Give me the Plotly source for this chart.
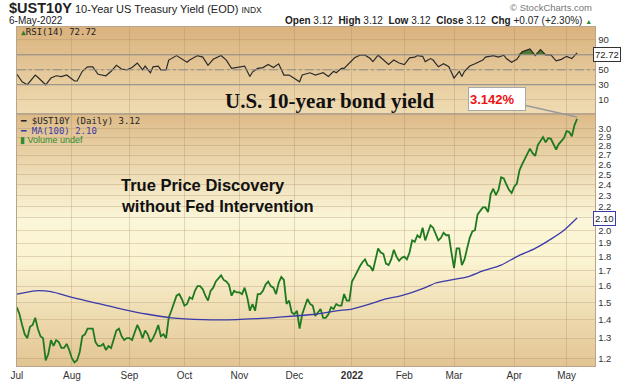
import numpy as np
import pandas as pd
import plotly.graph_objects as go

# ---------------- data ----------------
holidays = ["2021-07-05", "2021-09-06", "2021-11-25", "2021-12-24",
            "2022-01-17", "2022-02-21", "2022-04-15"]
trading_days = pd.bdate_range("2021-07-01", "2022-05-06", freq="C", holidays=holidays)
dates = [d.strftime("%Y-%m-%d") for d in trading_days]

yield_jul = [1.47, 1.43, 1.37, 1.32, 1.30, 1.36, 1.37, 1.41, 1.35, 1.31, 1.30, 1.19, 1.22, 1.29,
             1.26, 1.29, 1.28, 1.25, 1.25, 1.27, 1.24]
yield_aug = [1.20, 1.18, 1.19, 1.23, 1.31, 1.32, 1.35, 1.35, 1.35, 1.28, 1.26, 1.26, 1.27, 1.24,
             1.26, 1.25, 1.29, 1.34, 1.35, 1.31, 1.29, 1.30]
yield_sep = [1.30, 1.29, 1.33, 1.37, 1.34, 1.30, 1.34, 1.32, 1.28, 1.30, 1.33, 1.37, 1.31, 1.32,
             1.30, 1.41, 1.45, 1.49, 1.54, 1.55, 1.52]
yield_oct = [1.48, 1.49, 1.53, 1.52, 1.57, 1.60, 1.60, 1.58, 1.54, 1.51, 1.57, 1.59, 1.63, 1.65,
             1.67, 1.64, 1.63, 1.61, 1.54, 1.57, 1.56]
yield_nov = [1.56, 1.55, 1.59, 1.53, 1.45, 1.49, 1.45, 1.55, 1.55, 1.57, 1.61, 1.63, 1.60, 1.59,
             1.55, 1.62, 1.66, 1.64, 1.49, 1.51, 1.44]
yield_dec = [1.43, 1.45, 1.35, 1.43, 1.47, 1.52, 1.49, 1.48, 1.42, 1.44, 1.46, 1.41, 1.41, 1.43,
             1.47, 1.46, 1.49, 1.48, 1.48, 1.55, 1.51, 1.51]
yield_jan = [1.63, 1.66, 1.70, 1.73, 1.76, 1.78, 1.74, 1.73, 1.70, 1.78, 1.86, 1.83, 1.82, 1.75,
             1.74, 1.78, 1.85, 1.80, 1.77, 1.79]
yield_feb = [1.80, 1.78, 1.83, 1.92, 1.91, 1.96, 1.94, 2.02, 1.92, 1.98, 2.04, 2.02, 1.97, 1.92,
             1.94, 1.98, 1.96, 1.96, 1.83]
yield_mar = [1.72, 1.86, 1.86, 1.74, 1.78, 1.86, 1.94, 1.99, 2.00, 2.13, 2.16, 2.19, 2.19, 2.15,
             2.31, 2.36, 2.30, 2.35, 2.47, 2.46, 2.40, 2.35, 2.32]
yield_apr = [2.38, 2.41, 2.54, 2.60, 2.66, 2.71, 2.77, 2.72, 2.69, 2.81, 2.85, 2.90, 2.84, 2.89,
             2.88, 2.81, 2.76, 2.82, 2.85, 2.89]
yield_may = [2.97, 2.96, 2.91, 3.04, 3.12]
yields = (yield_jul + yield_aug + yield_sep + yield_oct + yield_nov + yield_dec +
          yield_jan + yield_feb + yield_mar + yield_apr + yield_may)

ma_dates = ["2021-07-01", "2021-07-13", "2021-07-21", "2021-08-02", "2021-08-12", "2021-08-27",
            "2021-09-13", "2021-09-24", "2021-10-12", "2021-10-29", "2021-11-17", "2021-12-01",
            "2021-12-13", "2021-12-23", "2022-01-03", "2022-01-12", "2022-01-21", "2022-01-31",
            "2022-02-11", "2022-02-17", "2022-02-28", "2022-03-08", "2022-03-16", "2022-03-25",
            "2022-04-04", "2022-04-13", "2022-04-22", "2022-04-29", "2022-05-06"]
ma_values = [1.55, 1.57, 1.565, 1.53, 1.50, 1.46, 1.43, 1.41, 1.40, 1.40, 1.41, 1.42,
             1.43, 1.45, 1.46, 1.49, 1.52, 1.54, 1.59, 1.62, 1.64, 1.66, 1.70, 1.74,
             1.80, 1.86, 1.93, 2.00, 2.10]

rsi_dates = ["2021-07-01", "2021-07-06", "2021-07-08", "2021-07-13", "2021-07-14", "2021-07-19",
             "2021-07-21", "2021-07-23", "2021-07-27", "2021-07-29", "2021-08-03", "2021-08-04",
             "2021-08-06", "2021-08-10", "2021-08-12", "2021-08-16", "2021-08-19", "2021-08-23",
             "2021-08-25", "2021-08-27", "2021-08-31", "2021-09-02", "2021-09-07", "2021-09-09",
             "2021-09-10", "2021-09-14", "2021-09-15", "2021-09-17", "2021-09-20", "2021-09-22",
             "2021-09-23", "2021-09-28", "2021-10-04", "2021-10-05", "2021-10-08", "2021-10-12",
             "2021-10-14", "2021-10-18", "2021-10-21", "2021-10-25", "2021-10-27", "2021-10-29",
             "2021-11-03", "2021-11-05", "2021-11-08", "2021-11-10", "2021-11-12", "2021-11-16",
             "2021-11-18", "2021-11-22", "2021-11-24", "2021-11-29", "2021-12-01", "2021-12-03",
             "2021-12-06", "2021-12-09", "2021-12-13", "2021-12-16", "2021-12-20", "2021-12-22",
             "2021-12-23", "2021-12-28", "2021-12-29", "2022-01-04", "2022-01-06", "2022-01-10",
             "2022-01-12", "2022-01-13", "2022-01-18", "2022-01-20", "2022-01-24", "2022-01-26",
             "2022-01-28", "2022-02-01", "2022-02-03", "2022-02-07", "2022-02-08", "2022-02-10",
             "2022-02-11", "2022-02-15", "2022-02-16", "2022-02-18", "2022-02-23", "2022-02-25",
             "2022-02-28", "2022-03-01", "2022-03-03", "2022-03-04", "2022-03-07", "2022-03-09",
             "2022-03-11", "2022-03-16", "2022-03-17", "2022-03-21", "2022-03-22", "2022-03-24",
             "2022-03-28", "2022-03-29", "2022-03-31", "2022-04-04", "2022-04-06", "2022-04-11",
             "2022-04-13", "2022-04-18", "2022-04-20", "2022-04-22", "2022-04-26", "2022-04-28",
             "2022-05-02", "2022-05-04", "2022-05-05", "2022-05-06"]
rsi_values = [44, 34, 30, 43, 40, 30,
              39, 42, 41, 43, 35, 35,
              48, 54, 54, 44, 42, 48,
              56, 51, 50, 53, 59, 50,
              55, 46, 54, 55, 50, 50,
              63, 69, 60, 63, 69, 67,
              56, 64, 69, 63, 52, 53,
              55, 41, 47, 52, 53, 57,
              53, 58, 43, 43, 39, 34,
              43, 46, 43, 46, 41, 48,
              46, 52, 52, 66, 69.5, 69.5,
              65, 61, 69.5, 63, 57, 63,
              59, 57, 66, 67, 69, 68,
              61, 65, 63, 54, 58, 54,
              46, 39, 48, 41, 48, 55,
              58, 63, 67, 68, 69, 67,
              69.5, 65, 60, 64, 74, 78,
              69, 77, 70, 70, 62, 64,
              68, 65, 69, 72.72]

month_tick_dates = ["2021-07-01", "2021-08-02", "2021-09-01", "2021-10-01", "2021-11-01",
                    "2021-12-01", "2022-01-03", "2022-02-01", "2022-03-01", "2022-04-01",
                    "2022-05-02"]
month_labels = ["Jul", "Aug", "Sep", "Oct", "Nov", "Dec", "<b>2022</b>", "Feb", "Mar", "Apr", "May"]

yield_ticks = [1.2, 1.3, 1.4, 1.5, 1.6, 1.7, 1.8, 1.9, 2.0, 2.1, 2.2, 2.3, 2.4, 2.5, 2.6,
               2.7, 2.8, 2.9, 3.0]
rsi_ticks = [10, 30, 50, 70, 90]
red_level = 2.98
callout_value = 3.142
ma_last = 2.10
rsi_last = 72.72

# ---------------- layout helpers ----------------
W, H = 625, 381
def px(xp):
    return xp / W
def py(yp):
    return 1 - yp / H

PL, PR = 11, 595            # plot left/right pixels
RSI_T, RSI_B = 27, 114      # rsi panel top/bottom
MAIN_T, MAIN_B = 114, 367   # main panel top/bottom

fig = go.Figure()

# price panel traces
fig.add_trace(go.Scatter(x=dates, y=yields, mode="lines",
                         line=dict(color="#1f7a1f", width=1.8), xaxis="x", yaxis="y",
                         hoverinfo="skip"))
fig.add_trace(go.Scatter(x=ma_dates, y=ma_values, mode="lines",
                         line=dict(color="#3a3aa8", width=1.3, shape="spline", smoothing=0.6),
                         xaxis="x", yaxis="y", hoverinfo="skip"))

# RSI traces
fig.add_trace(go.Scatter(x=rsi_dates, y=[70] * len(rsi_dates), mode="lines",
                         line=dict(color="rgba(0,0,0,0)", width=0), xaxis="x2", yaxis="y2",
                         hoverinfo="skip"))
fig.add_trace(go.Scatter(x=rsi_dates, y=[max(v, 70) for v in rsi_values], mode="lines",
                         line=dict(color="rgba(0,0,0,0)", width=0), fill="tonexty",
                         fillcolor="#4f7d2c", xaxis="x2", yaxis="y2", hoverinfo="skip"))
fig.add_trace(go.Scatter(x=rsi_dates, y=rsi_values, mode="lines",
                         line=dict(color="#2b2b2b", width=1.2), xaxis="x2", yaxis="y2",
                         hoverinfo="skip"))

# ---------------- background gradients ----------------
def hex2rgb(h):
    h = h.lstrip("#")
    return [int(h[i:i + 2], 16) for i in (0, 2, 4)]

def grad(stops, t):
    for (t0, c0), (t1, c1) in zip(stops[:-1], stops[1:]):
        if t0 <= t <= t1:
            f = 0 if t1 == t0 else (t - t0) / (t1 - t0)
            a, b = hex2rgb(c0), hex2rgb(c1)
            return "rgb(%d,%d,%d)" % tuple(round(a[i] + (b[i] - a[i]) * f) for i in range(3))
    return stops[-1][1]

shapes = []
def band_fill(top, bottom, stops, n=50):
    h = (bottom - top) / n
    for i in range(n):
        y0 = top + i * h
        shapes.append(dict(type="rect", xref="paper", yref="paper", layer="below",
                           x0=px(PL), x1=px(PR), y0=py(y0 + h + 0.6), y1=py(y0),
                           fillcolor=grad(stops, (i + 0.5) / n), line=dict(width=0)))

band_fill(RSI_T, RSI_B, [(0, "#dab27d"), (1, "#efdcb3")], n=30)
band_fill(MAIN_T, MAIN_B, [(0, "#ddbb88"), (0.42, "#fbf6d8"), (0.58, "#fbf4d2"), (1, "#e2c492")], n=70)

# RSI reference lines
for lvl, dash in ((70, "solid"), (30, "solid"), (50, "dashdot")):
    shapes.append(dict(type="line", xref="paper", yref="y2", x0=px(PL), x1=px(PR), y0=lvl, y1=lvl,
                       line=dict(color="#8c8c8c", width=1, dash=dash), layer="above"))
# red horizontal level
shapes.append(dict(type="line", xref="paper", yref="y", x0=px(PL), x1=px(PR),
                   y0=np.log10(red_level), y1=np.log10(red_level),
                   line=dict(color="#e00000", width=1.6), layer="above"))

# ---------------- annotations ----------------
ann = []
def text(x, y, s, size=10, color="#222", anchor="left", family="Liberation Sans", **kw):
    ann.append(dict(xref="paper", yref="paper", x=px(x), y=py(y), text=s, showarrow=False,
                    xanchor=anchor, yanchor="middle", font=dict(size=size, color=color, family=family), **kw))

text(1, 8, "<span style='font-size:14.5px'><b>$UST10Y</b></span> 10-Year US Treasury Yield (EOD) "
           "<span style='font-size:8.5px'>INDX</span>", size=11)
text(1, 21, "6-May-2022", size=10)
text(594, 8, "© StockCharts.com", size=9.5, color="#777", anchor="right")
text(594, 21, "<b>Open</b> 3.12  <b>High</b> 3.12  <b>Low</b> 3.12  <b>Close</b> 3.12  "
             "<b>Chg</b> +0.07 (+2.30%) <span style='color:#2e8b2e;font-size:7px'>▲</span>",
     size=10, anchor="right")

text(13, 32, "<span style='color:#3c7a22;font-size:8px'>▲</span>RSI(14) 72.72", size=9,
     family="DejaVu Sans Mono")
text(12, 121, "━ $UST10Y (Daily) 3.12", size=9, family="DejaVu Sans Mono")
text(12, 131, "<span style='color:#3a3aa8'>━ MA(100) 2.10</span>", size=9, family="DejaVu Sans Mono")
text(12, 140, "<span style='color:#2f8a2f'>▮ Volume undef</span>", size=9)

text(327, 101, "<b>U.S. 10-year bond yield</b>", size=21, color="#111", anchor="center",
     family="Liberation Serif")
text(114, 185, "<b>True Price Discovery</b>", size=16.5, color="#111")
text(114, 207, "<b>without Fed Intervention</b>", size=16.5, color="#111")

# value boxes on right axis
text(593, 55, "%.2f" % rsi_last, size=9.5, color="#222", bgcolor="white", bordercolor="#333",
     borderwidth=1, borderpad=1)
text(593, 219, "%.2f" % ma_last, size=9.5, color="#222", bgcolor="white", bordercolor="#3a3aa8",
     borderwidth=1, borderpad=1)

# callout
ann.append(dict(xref="x", yref="y", x=dates[-1], y=np.log10(callout_value),
                text="<b>%.3f%%</b>" % callout_value, showarrow=True, arrowhead=0, arrowwidth=1.5,
                arrowcolor="#9a9a9a", ax=-80, ay=-18, bgcolor="white", bordercolor="#a8a8a8",
                borderwidth=1, width=54, height=20, align="left",
                font=dict(size=13, color="#ee1111", family="Liberation Sans")))

# ---------------- axes ----------------
grid_c = "rgba(160,130,95,0.28)"
line_c = "#b9a58c"
x_common = dict(type="category", categoryorder="array", categoryarray=dates,
                range=[0, (PR - PL) / 2.643], tickmode="array", tickvals=month_tick_dates,
                showgrid=True, gridcolor=grid_c, gridwidth=1, zeroline=False,
                showline=True, linecolor=line_c, mirror=True, ticks="")

fig.update_layout(
    width=W, height=H, margin=dict(l=0, r=0, t=0, b=0),
    paper_bgcolor="white", plot_bgcolor="rgba(0,0,0,0)", showlegend=False,
    xaxis=dict(**x_common, domain=[px(PL), px(PR)], anchor="y", ticktext=month_labels,
               tickfont=dict(size=10, color="#333", family="Liberation Sans")),
    xaxis2=dict(**x_common, domain=[px(PL), px(PR)], anchor="y2", matches="x",
                showticklabels=False),
    yaxis=dict(type="log", domain=[py(MAIN_B), py(MAIN_T)], side="right", anchor="x",
               range=[np.log10(1.163), np.log10(3.184)], tickmode="array", tickvals=yield_ticks,
               ticktext=["" if abs(v - ma_last) < 1e-9 else "%.1f" % v for v in yield_ticks],
               showgrid=True, gridcolor=grid_c,
               showline=True, linecolor=line_c, mirror=True, ticks="", zeroline=False,
               tickfont=dict(size=9.5, color="#333", family="Liberation Sans")),
    yaxis2=dict(domain=[py(RSI_B), py(RSI_T)], side="right", anchor="x2",
                range=[-8.7, 107.3], tickmode="array", tickvals=rsi_ticks,
                ticktext=["" if v == 70 else str(v) for v in rsi_ticks], showgrid=True,
                gridcolor=grid_c, showline=True, linecolor=line_c, mirror=True, ticks="",
                zeroline=False, tickfont=dict(size=9.5, color="#333", family="Liberation Sans")),
    shapes=shapes, annotations=ann,
)

fig.write_html("out.html", config={"displayModeBar": False, "staticPlot": True},
               post_script="document.body.style.margin='0';")
